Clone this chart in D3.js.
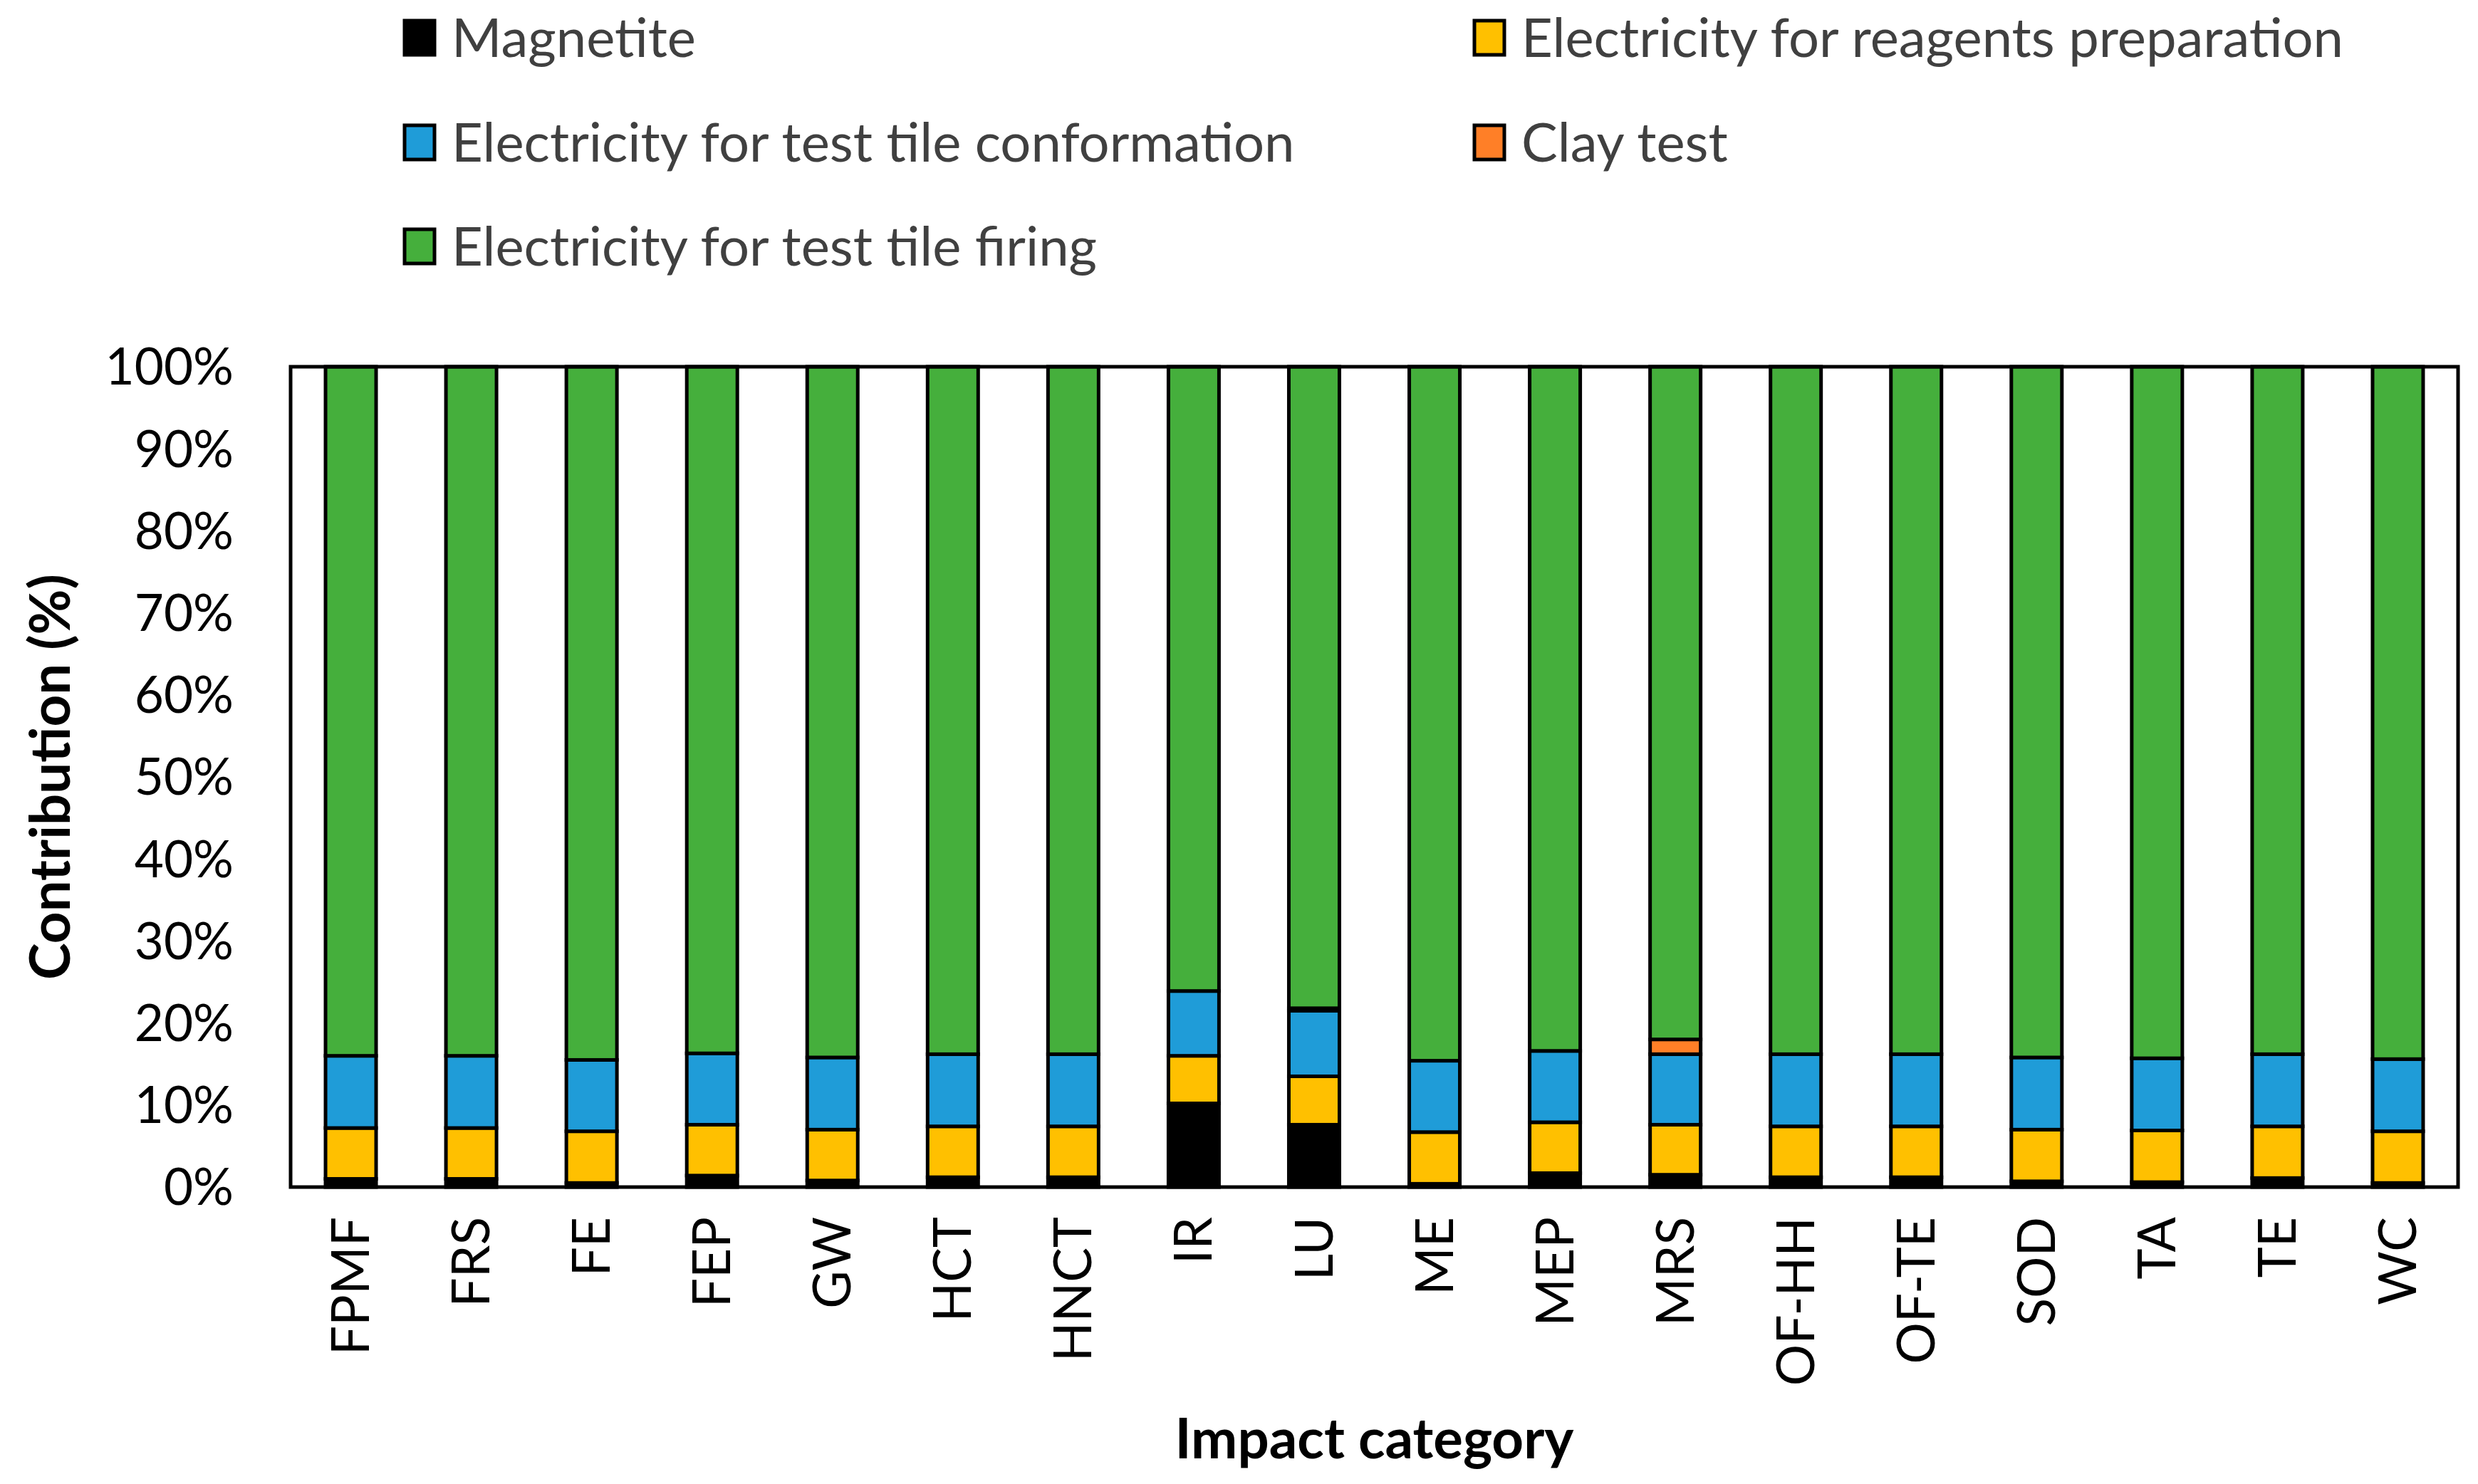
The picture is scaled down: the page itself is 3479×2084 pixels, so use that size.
<!DOCTYPE html>
<html>
<head>
<meta charset="utf-8">
<script src="https://cdn.jsdelivr.net/npm/d3@7"></script>
<style>
  html, body { margin: 0; padding: 0; background: #fff; }
  text { font-family: Lato, "Open Sans", sans-serif; }
</style>
</head>
<body>
<svg id="chart"></svg>
<script>
// Impact categories along the x axis
const categories = ["FPMF", "FRS", "FE", "FEP", "GW", "HCT", "HNCT", "IR", "LU", "ME",
  "MEP", "MRS", "OF-HH", "OF-TE", "SOD", "TA", "TE", "WC"];

// contribution (%) of each process
const magnetite   = [1.0, 1.0, 0.5, 1.4, 0.8, 1.2, 1.2, 10.2, 7.6, 0.4, 1.7, 1.5, 1.2, 1.2, 0.7, 0.6, 1.1, 0.5];
const reagents    = [6.2, 6.2, 6.3, 6.2, 6.2, 6.2, 6.2, 5.8, 5.9, 6.3, 6.2, 6.1, 6.2, 6.2, 6.3, 6.3, 6.3, 6.3];
const conformation = [8.8, 8.8, 8.7, 8.7, 8.8, 8.8, 8.8, 7.9, 8.0, 8.7, 8.7, 8.6, 8.8, 8.8, 8.8, 8.8, 8.8, 8.8];
const clayTest    = [0, 0, 0, 0, 0, 0, 0, 0, 0.3, 0, 0, 1.8, 0, 0, 0, 0, 0, 0];
const firing      = [84.0, 84.0, 84.5, 83.7, 84.2, 83.8, 83.8, 76.1, 78.2, 84.6, 83.4, 82.0, 83.8, 83.8, 84.2, 84.3, 83.8, 84.4];

const yTicks = [0, 10, 20, 30, 40, 50, 60, 70, 80, 90, 100];

const series = [
  { key: "magnetite", name: "Magnetite", color: "#000000", values: magnetite },
  { key: "reagents", name: "Electricity for reagents preparation", color: "#FFC000", values: reagents },
  { key: "conformation", name: "Electricity for test tile conformation", color: "#1F9CD8", values: conformation },
  { key: "clay", name: "Clay test", color: "#FF7F27", values: clayTest },
  { key: "firing", name: "Electricity for test tile firing", color: "#45AF3C", values: firing }
];

const width = 3479, height = 2084;
const margin = { top: 515, right: 28, bottom: 417, left: 408 };
const innerW = width - margin.left - margin.right;
const innerH = height - margin.top - margin.bottom;

const svg = d3.select("#chart")
  .attr("width", width)
  .attr("height", height)
  .attr("viewBox", `0 0 ${width} ${height}`);

svg.append("rect").attr("width", width).attr("height", height).attr("fill", "#fff");

const g = svg.append("g").attr("transform", `translate(${margin.left},${margin.top})`);

const x = d3.scaleBand()
  .domain(categories)
  .range([0, innerW])
  .paddingInner(0.58)
  .paddingOuter(0.29);

const y = d3.scaleLinear().domain([0, 100]).range([innerH, 0]);

// stacked data
const table = categories.map((c, i) => {
  const row = { category: c };
  series.forEach(s => { row[s.key] = s.values[i]; });
  return row;
});
const stacked = d3.stack().keys(series.map(s => s.key))(table);

// bars
g.selectAll("g.layer")
  .data(stacked)
  .join("g")
  .attr("class", "layer")
  .attr("fill", (d, i) => series[i].color)
  .selectAll("rect")
  .data(d => d)
  .join("rect")
  .attr("x", d => x(d.data.category))
  .attr("width", x.bandwidth())
  .attr("y", d => y(d[1]))
  .attr("height", d => y(d[0]) - y(d[1]))
  .attr("stroke", "#000")
  .attr("stroke-width", 5);

// plot frame
g.append("rect")
  .attr("x", 0).attr("y", 0)
  .attr("width", innerW).attr("height", innerH)
  .attr("fill", "none")
  .attr("stroke", "#000")
  .attr("stroke-width", 5);

// y axis
const yAxis = g.append("g")
  .call(d3.axisLeft(y).tickValues(yTicks).tickFormat(d => d + "%").tickSize(0).tickPadding(80));
yAxis.select(".domain").remove();
yAxis.selectAll("text")
  .attr("font-family", "Lato, 'Open Sans', sans-serif")
  .attr("font-size", 71)
  .attr("fill", "#000")
  .attr("dy", "0.35em");

// x axis
const xAxis = g.append("g")
  .attr("transform", `translate(0,${innerH})`)
  .call(d3.axisBottom(x).tickSize(0));
xAxis.select(".domain").remove();
xAxis.selectAll("text")
  .attr("font-family", "Lato, 'Open Sans', sans-serif")
  .attr("font-size", 73)
  .attr("fill", "#000")
  .attr("transform", "rotate(-90)")
  .attr("text-anchor", "end")
  .attr("x", -42)
  .attr("y", 0)
  .attr("dy", "0.35em");

// axis titles
svg.append("text")
  .attr("x", margin.left + innerW / 2)
  .attr("y", 2048)
  .attr("text-anchor", "middle")
  .attr("font-weight", "bold")
  .attr("font-size", 78)
  .attr("fill", "#000")
  .text("Impact category");

svg.append("text")
  .attr("transform", `translate(98,${margin.top + innerH / 2}) rotate(-90)`)
  .attr("text-anchor", "middle")
  .attr("font-weight", "bold")
  .attr("font-size", 78)
  .attr("fill", "#000")
  .text("Contribution (%)");

// legend, two columns like Excel
const legendOrder = ["magnetite", "reagents", "conformation", "clay", "firing"];
const colX = [566, 2068];
const rowY = [53, 200, 346];
const legend = svg.append("g");
legendOrder.forEach((k, i) => {
  const s = series.find(d => d.key === k);
  const cx = colX[i % 2], cy = rowY[Math.floor(i / 2)];
  const item = legend.append("g").attr("transform", `translate(${cx},${cy})`);
  item.append("rect")
    .attr("x", 2).attr("y", -24)
    .attr("width", 42).attr("height", 48)
    .attr("fill", s.color)
    .attr("stroke", "#000")
    .attr("stroke-width", 5);
  item.append("text")
    .attr("x", 68)
    .attr("dy", "0.35em")
    .attr("font-size", 76)
    .attr("fill", "#404040")
    .text(s.name);
});
</script>
</body>
</html>
